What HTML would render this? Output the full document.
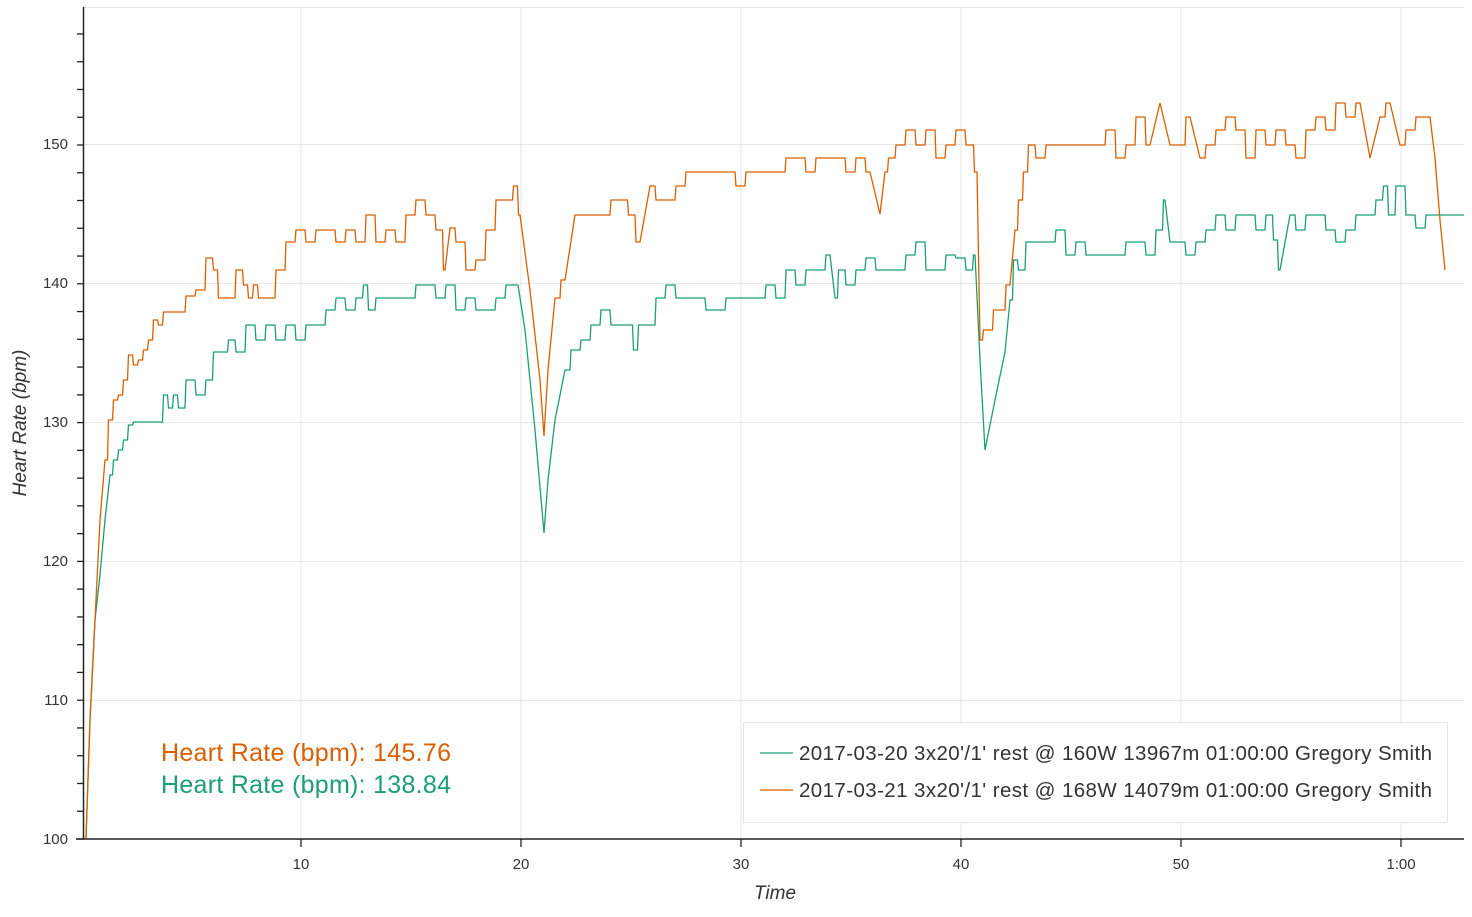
<!DOCTYPE html>
<html><head><meta charset="utf-8"><style>
body{margin:0;background:#fff;width:1472px;height:912px;overflow:hidden}
text{font-family:"Liberation Sans",sans-serif}
</style></head><body>
<svg id="s" width="1472" height="912" xmlns="http://www.w3.org/2000/svg">
<g stroke="#e6e6e6" stroke-width="1">
<line x1="301" y1="7" x2="301" y2="839"/><line x1="521" y1="7" x2="521" y2="839"/><line x1="741" y1="7" x2="741" y2="839"/><line x1="961" y1="7" x2="961" y2="839"/><line x1="1181" y1="7" x2="1181" y2="839"/><line x1="1401" y1="7" x2="1401" y2="839"/>
<line x1="84" y1="144.5" x2="1464" y2="144.5"/><line x1="84" y1="283.5" x2="1464" y2="283.5"/><line x1="84" y1="422.5" x2="1464" y2="422.5"/><line x1="84" y1="561.5" x2="1464" y2="561.5"/><line x1="84" y1="700.5" x2="1464" y2="700.5"/>
<line x1="84" y1="7.5" x2="1464" y2="7.5"/>
</g>
<g id="ser" fill="none" stroke-width="1.3"></g>
<g stroke="#222" stroke-width="1.5">
<line x1="83.5" y1="7" x2="83.5" y2="839"/><line x1="76" y1="839" x2="1464" y2="839"/>
</g>
<g id="ticks" stroke="#222" stroke-width="1.3"></g>
<g font-size="15" fill="#333" text-anchor="end">
<text x="68" y="149">150</text><text x="68" y="288">140</text><text x="68" y="427">130</text><text x="68" y="566">120</text><text x="68" y="705">110</text><text x="68" y="844">100</text>
</g>
<g font-size="15" fill="#333" text-anchor="middle">
<text x="301" y="869">10</text><text x="521" y="869">20</text><text x="741" y="869">30</text><text x="961" y="869">40</text><text x="1181" y="869">50</text><text x="1401" y="869">1:00</text>
</g>
<text x="775" y="899" font-size="19" font-style="italic" fill="#333" text-anchor="middle">Time</text>
<text transform="translate(26,423) rotate(-90)" font-size="19" font-style="italic" fill="#333" text-anchor="middle">Heart Rate (bpm)</text>
<text x="161" y="761" font-size="25" fill="#d95f02" textLength="290">Heart Rate (bpm): 145.76</text>
<text x="161" y="793" font-size="25" fill="#1b9e77" textLength="290">Heart Rate (bpm): 138.84</text>
<rect x="743.5" y="722.5" width="704" height="100" fill="#fff" stroke="#e6e6e6"/>
<line x1="760" y1="753" x2="793" y2="753" stroke="#1b9e77" stroke-width="1.3"/>
<line x1="760" y1="790" x2="793" y2="790" stroke="#d95f02" stroke-width="1.3"/>
<text x="799" y="760" font-size="20.5" fill="#333" textLength="633">2017-03-20 3x20'/1' rest @ 160W 13967m 01:00:00 Gregory Smith</text>
<text x="799" y="797" font-size="20.5" fill="#333" textLength="633">2017-03-21 3x20'/1' rest @ 168W 14079m 01:00:00 Gregory Smith</text>
</svg>
<script>
var t=document.getElementById('ticks'),h='';
for(var v=100;v<=158;v+=2){var y=839-(v-100)*13.88;h+='<line x1="77" y1="'+y+'" x2="84" y2="'+y+'"/>';}
[301,521,741,961,1181,1401].forEach(function(x){h+='<line x1="'+x+'" y1="839" x2="'+x+'" y2="847"/>';});
t.innerHTML=h;
var O=[86,838,90,720,96,600,100,520,105,460,110,420,115,400,120,395,125,380,130,355,135,365,140,360,145,350,150,340,155,320,160,325,165,312,170,312,180,312,190,296,200,290,210,258,215,270,220,298,230,298,240,270,245,285,250,298,255,285,260,298,270,298,280,270,290,242,300,230,310,242,320,230,330,230,340,242,350,230,360,242,370,215,380,242,390,230,400,242,410,215,420,200,430,215,440,230,445,270,450,228,460,242,470,270,480,260,490,230,500,200,510,200,515,186,520,215,530,290,540,380,544,436,548,370,555,298,565,280,575,215,585,215,595,215,605,215,615,200,625,200,630,215,640,242,650,186,660,200,670,200,680,186,690,172,700,172,710,172,720,172,730,172,740,186,750,172,760,172,770,172,780,172,790,158,800,158,810,172,820,158,830,158,840,158,850,172,860,158,870,172,880,214,885,172,890,158,900,145,910,130,920,145,930,130,940,158,950,145,960,130,970,145,977,172,980,340,985,330,1000,310,1010,285,1015,230,1020,200,1025,172,1030,145,1040,158,1050,145,1060,145,1070,145,1080,145,1090,145,1100,145,1110,130,1120,158,1130,145,1140,117,1150,145,1160,103,1170,145,1180,145,1190,117,1200,158,1210,145,1220,130,1230,117,1240,130,1250,158,1260,130,1270,145,1280,130,1290,145,1300,158,1310,130,1320,117,1330,130,1340,103,1350,117,1360,103,1370,158,1380,117,1390,103,1400,145,1410,130,1420,117,1430,117,1435,158,1440,220,1445,270];
var G=[86,838,90,720,95,620,100,575,105,520,110,475,115,460,120,450,125,440,130,425,135,422,160,422,165,395,170,408,175,395,180,408,190,380,200,395,210,380,215,352,225,352,230,340,240,352,250,325,260,340,270,325,280,340,290,325,300,340,310,325,320,325,330,310,340,298,350,310,360,298,365,285,370,310,380,298,390,298,400,298,410,298,420,285,430,285,440,298,450,285,460,310,470,298,480,310,490,310,500,298,510,285,518,285,525,330,535,430,544,533,548,480,555,420,565,370,575,350,585,340,595,325,605,310,615,325,630,325,635,350,640,325,650,325,660,298,670,285,680,298,690,298,700,298,710,310,720,310,730,298,740,298,750,298,760,298,770,285,780,298,790,270,800,285,810,270,820,270,830,255,835,298,840,270,850,285,860,270,870,258,880,270,890,270,900,270,910,255,920,242,930,270,940,270,950,255,960,258,970,270,975,255,980,360,985,450,995,400,1005,352,1010,300,1015,260,1020,270,1030,242,1040,242,1050,242,1060,230,1070,255,1080,242,1090,255,1100,255,1110,255,1120,255,1130,242,1140,242,1150,255,1160,230,1165,200,1170,242,1180,242,1190,255,1200,242,1210,230,1220,215,1230,230,1240,215,1250,215,1260,230,1270,215,1275,240,1280,270,1290,215,1300,230,1310,215,1320,215,1330,230,1340,242,1350,230,1360,215,1370,215,1380,200,1385,186,1390,215,1400,186,1410,215,1420,228,1430,215,1464,215];
function path(a){var d='M'+a[0]+' '+a[1];for(var i=2;i<a.length;i+=2){var px=a[i-2],py=a[i-1],x=a[i],y=a[i+1];
if(Math.abs(y-py)>40||Math.abs(x-px)<4){d+=' L'+x+' '+y;}else{var mx=(px+x)/2;d+=' L'+mx+' '+py+' L'+(mx+1)+' '+y+' L'+x+' '+y;}}return d;}
document.getElementById('ser').innerHTML='<path d="'+path(G)+'" stroke="#1b9e77"/><path d="'+path(O)+'" stroke="#d95f02"/>';
</script>
</body></html>
